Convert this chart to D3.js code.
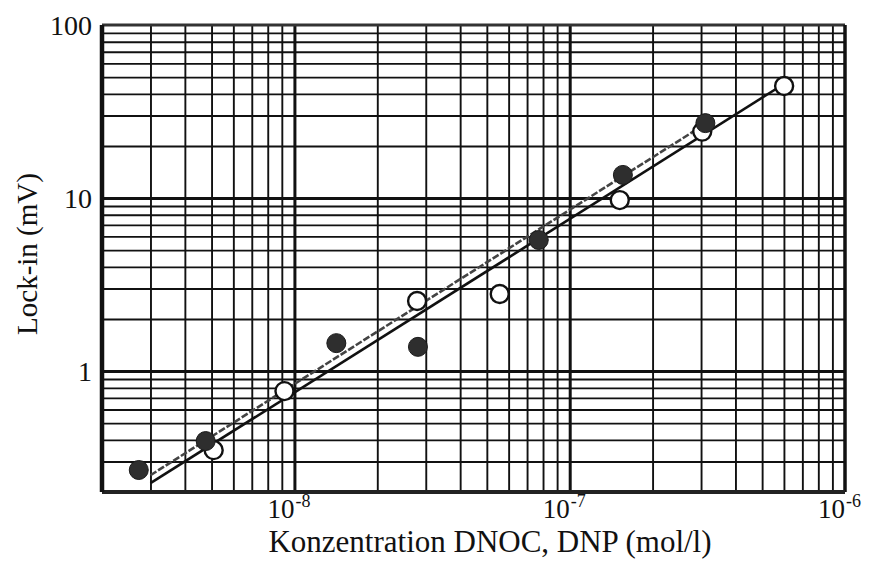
<!DOCTYPE html>
<html>
<head>
<meta charset="utf-8">
<script src="https://cdn.jsdelivr.net/npm/d3@7"></script>
<style>
  html, body { margin: 0; padding: 0; background: #fff; }
  svg { display: block; }
  text { font-family: "Liberation Serif", "Times New Roman", serif; fill: #111; }
</style>
</head>
<body>
<svg id="chart" width="871" height="562"></svg>
<script>
// Measured samples: concentration (mol/l) and lock-in signal (mV)
const dnocConc   = [2.72e-9, 4.76e-9, 1.42e-8, 2.81e-8, 7.72e-8, 1.56e-7, 3.11e-7];
const dnocSignal = [0.268, 0.394, 1.45, 1.38, 5.72, 13.6, 27.1];
const dnpConc    = [5.09e-9, 9.2e-9, 2.79e-8, 5.57e-8, 1.52e-7, 3.03e-7, 6.01e-7];
const dnpSignal  = [0.349, 0.766, 2.54, 2.79, 9.73, 24.2, 44.4];

// Regression lines (end points)
const dnocFitConc   = [3.0e-9, 3.11e-7];
const dnocFitSignal = [0.25, 26.8];
const dnpFitConc    = [3.0e-9, 6.0e-7];
const dnpFitSignal  = [0.225, 45.6];

// Axis ranges and labelled decades
const xDomain = [2e-9, 1e-6];
const yDomain = [0.2, 100];
const xMajor = [1e-8, 1e-7, 1e-6];
const xMajorExp = ["-8", "-7", "-6"];
const yMajor = [1, 10, 100];
const yMajorLabels = ["1", "10", "100"];

const xTitle = "Konzentration DNOC, DNP (mol/l)";
const yTitle = "Lock-in (mV)";

const svg = d3.select("#chart");
const m = { left: 102, top: 25, right: 26, bottom: 70 };
const W = 871 - m.left - m.right;
const H = 562 - m.top - m.bottom;

const x = d3.scaleLog().domain(xDomain).range([0, W]);
const y = d3.scaleLog().domain(yDomain).range([H, 0]);

const g = svg.append("g").attr("transform", `translate(${m.left},${m.top})`);

// Log-paper grid: every 1..9 step within each decade
function minorValues(lo, hi) {
  const out = [];
  for (let e = Math.floor(Math.log10(lo)); e <= Math.ceil(Math.log10(hi)); e++) {
    for (let k = 2; k <= 9; k++) {
      const v = k * Math.pow(10, e);
      if (v > lo * 1.0001 && v < hi * 0.9999) out.push(v);
    }
  }
  return out;
}
const xMinor = minorValues(xDomain[0], xDomain[1]);
const yMinor = minorValues(yDomain[0], yDomain[1]);

function styleGrid(sel, width) {
  sel.select(".domain").remove();
  sel.selectAll(".tick line").attr("stroke", "#111").attr("stroke-width", width);
  sel.selectAll(".tick text").remove();
}

g.append("g").attr("transform", `translate(0,${H})`)
  .call(d3.axisBottom(x).tickValues(xMinor).tickSize(-H).tickFormat(""))
  .call(s => styleGrid(s, 1.9));
g.append("g")
  .call(d3.axisLeft(y).tickValues(yMinor).tickSize(-W).tickFormat(""))
  .call(s => styleGrid(s, 1.9));
g.append("g").attr("transform", `translate(0,${H})`)
  .call(d3.axisBottom(x).tickValues(xMajor.filter(v => v < xDomain[1])).tickSize(-H).tickFormat(""))
  .call(s => styleGrid(s, 3));
g.append("g")
  .call(d3.axisLeft(y).tickValues(yMajor.filter(v => v < yDomain[1])).tickSize(-W).tickFormat(""))
  .call(s => styleGrid(s, 3));

// Frame
g.append("line").attr("x1", 0).attr("x2", W).attr("y1", 0).attr("y2", 0).attr("stroke", "#333").attr("stroke-width", 3);
g.append("line").attr("x1", W).attr("x2", W).attr("y1", 0).attr("y2", H).attr("stroke", "#111").attr("stroke-width", 3.5);
g.append("line").attr("x1", 0).attr("x2", W).attr("y1", H).attr("y2", H).attr("stroke", "#222").attr("stroke-width", 4);
g.append("line").attr("x1", 0).attr("x2", 0).attr("y1", 0).attr("y2", H).attr("stroke", "#111").attr("stroke-width", 4.5);

// Tick labels (power-of-ten notation on x)
const xLab = g.append("g").attr("transform", `translate(0,${H})`)
  .call(d3.axisBottom(x).tickValues(xMajor).tickSize(0).tickFormat(""));
xLab.select(".domain").remove();
xLab.selectAll(".tick text").remove();
xLab.selectAll(".tick").append("text")
  .attr("x", -6)
  .attr("y", 26)
  .attr("text-anchor", "middle")
  .attr("font-size", 27)
  .each(function(d, i) {
    const t = d3.select(this);
    t.append("tspan").text("10");
    t.append("tspan").attr("dx", 1).attr("dy", -11).attr("font-size", 18).text(xMajorExp[i]);
  });

const yLab = g.append("g")
  .call(d3.axisLeft(y).tickValues(yMajor).tickSize(0).tickPadding(10)
    .tickFormat((d, i) => yMajorLabels[i]));
yLab.select(".domain").remove();
yLab.selectAll(".tick text").attr("font-size", 28).attr("dy", "0.33em")
  .style("font-family", "'Liberation Serif', 'Times New Roman', serif").attr("fill", "#111");

// Axis titles
svg.append("text")
  .attr("x", 490)
  .attr("y", 552)
  .attr("text-anchor", "middle")
  .attr("font-size", 31)
  .text(xTitle);
svg.append("text")
  .attr("transform", `translate(37,${m.top + 229}) rotate(-90)`)
  .attr("text-anchor", "middle")
  .attr("font-size", 29)
  .text(yTitle);

// Fit lines
const line = d3.line().x(d => x(d[0])).y(d => y(d[1]));
g.append("path")
  .attr("d", line(d3.zip(dnpFitConc, dnpFitSignal)))
  .attr("fill", "none").attr("stroke", "#111").attr("stroke-width", 2.6);
g.append("path")
  .attr("d", line(d3.zip(dnocFitConc, dnocFitSignal)))
  .attr("fill", "none").attr("stroke", "#444").attr("stroke-width", 2.6)
  .attr("stroke-dasharray", "7,2");

// Markers
g.append("g").selectAll("circle")
  .data(d3.zip(dnpConc, dnpSignal))
  .join("circle")
  .attr("cx", d => x(d[0])).attr("cy", d => y(d[1])).attr("r", 9)
  .attr("fill", "#fff").attr("stroke", "#111").attr("stroke-width", 2.4);
g.append("g").selectAll("circle")
  .data(d3.zip(dnocConc, dnocSignal))
  .join("circle")
  .attr("cx", d => x(d[0])).attr("cy", d => y(d[1])).attr("r", 9.5)
  .attr("fill", "#2e2e2e").attr("stroke", "#1a1a1a").attr("stroke-width", 1);
</script>
</body>
</html>
